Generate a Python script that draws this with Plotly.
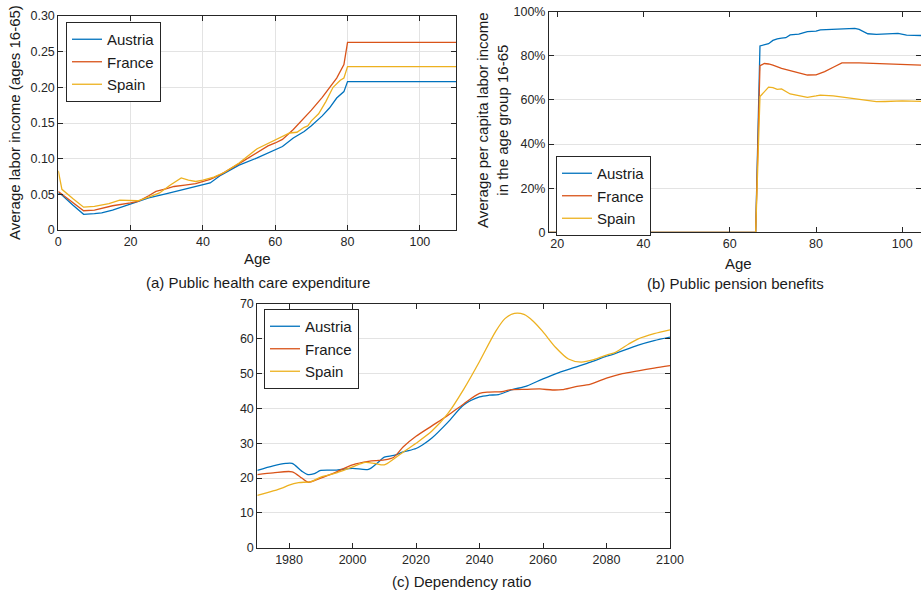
import plotly.graph_objects as go

countries = ["Austria", "France", "Spain"]
colors = ["#0072BD", "#D95319", "#EDB120"]

# ---- Panel (a): public health care expenditure by age ----
age_a = {
    "Austria": [0, 1, 4, 7, 10, 12, 15, 20, 25, 30, 35, 40, 42, 45, 50, 55, 60, 62, 65, 68, 70, 73, 75, 77, 79, 80, 110],
    "France": [0, 1, 4, 7, 10, 15, 20, 22, 25, 27, 30, 32, 35, 38, 42, 45, 50, 55, 58, 60, 62, 65, 68, 70, 73, 75, 77, 79, 80, 110],
    "Spain": [0, 1, 4, 7, 10, 14, 17, 20, 22, 25, 28, 31, 34, 36, 38, 40, 43, 46, 50, 55, 58, 60, 62, 64, 66, 68, 69, 70, 72, 74, 76, 78, 79, 80, 110],
}
health = {
    "Austria": [0.052, 0.049, 0.035, 0.022, 0.023, 0.024, 0.028, 0.036, 0.045, 0.051, 0.057, 0.063, 0.066, 0.077, 0.091, 0.101, 0.112, 0.117, 0.129, 0.138, 0.146, 0.160, 0.171, 0.185, 0.194, 0.208, 0.208],
    "France": [0.054, 0.050, 0.038, 0.027, 0.028, 0.034, 0.038, 0.040, 0.048, 0.054, 0.058, 0.061, 0.063, 0.065, 0.071, 0.078, 0.093, 0.108, 0.118, 0.122, 0.127, 0.141, 0.157, 0.168, 0.186, 0.200, 0.213, 0.232, 0.263, 0.263],
    "Spain": [0.083, 0.057, 0.044, 0.032, 0.033, 0.037, 0.042, 0.041, 0.041, 0.046, 0.052, 0.063, 0.073, 0.070, 0.068, 0.070, 0.074, 0.081, 0.094, 0.114, 0.121, 0.126, 0.131, 0.136, 0.137, 0.144, 0.146, 0.153, 0.163, 0.180, 0.200, 0.210, 0.213, 0.229, 0.229],
}
ticks_a_y = [0, 0.05, 0.10, 0.15, 0.20, 0.25, 0.30]
ticklabels_a_y = ["0", "0.05", "0.10", "0.15", "0.20", "0.25", "0.30"]

# ---- Panel (b): public pension benefits by age (% of labor income) ----
age_b = {
    "Austria": [18, 66, 67, 68, 69, 70, 71, 72, 73, 74, 76, 78, 79, 80, 81, 84, 86, 88, 89, 90, 92, 94, 96, 99, 101, 104.5],
    "France": [18, 66, 67, 68, 69, 70, 72, 74, 76, 78, 80, 82, 84, 86, 90, 94, 96, 100, 104.5],
    "Spain": [18, 66, 67, 68, 69, 70, 71, 72, 73, 74, 76, 78, 80, 81, 84, 86, 88, 90, 94, 96, 98, 100, 104.5],
}
pension = {
    "Austria": [0, 0, 84.5, 85, 85.5, 87, 87.7, 88, 88.2, 89.5, 89.8, 91, 91.2, 91.2, 91.8, 92, 92.1, 92.5, 92.4, 92, 90, 89.7, 90, 90.2, 89.4, 89.2],
    "France": [0, 0, 75.5, 76.5, 76.3, 75.8, 74.3, 73.2, 72.3, 71.3, 71.4, 72.8, 74.8, 76.8, 76.8, 76.6, 76.3, 76.2, 75.8],
    "Spain": [0, 0, 61.5, 63.5, 65.8, 65.6, 64.8, 65, 63.8, 62.7, 62, 61.2, 61.8, 62.2, 61.8, 61.3, 60.5, 60, 59.2, 59.3, 59.6, 59.6, 59.3],
}
ticks_b_y = [0, 20, 40, 60, 80, 100]
ticklabels_b_y = ["0", "20%", "40%", "60%", "80%", "100%"]

# ---- Panel (c): dependency ratio by year ----
year_c = {
    "Austria": [1970, 1975, 1979, 1981, 1984, 1986, 1988, 1990, 1995, 2000, 2005, 2008, 2010, 2013, 2016, 2020, 2022, 2025, 2030, 2035, 2040, 2043, 2046, 2050, 2055, 2060, 2065, 2070, 2075, 2080, 2082, 2090, 2095, 2100],
    "France": [1970, 1975, 1981, 1984, 1986, 1990, 1995, 2000, 2005, 2010, 2013, 2016, 2020, 2025, 2030, 2035, 2040, 2043, 2047, 2050, 2055, 2059, 2063, 2066, 2070, 2075, 2080, 2085, 2090, 2095, 2100],
    "Spain": [1970, 1975, 1978, 1980, 1983, 1987, 1990, 1995, 2000, 2004, 2007, 2010, 2013, 2016, 2020, 2025, 2030, 2035, 2040, 2045, 2048, 2051, 2054, 2057, 2060, 2064, 2068, 2072, 2076, 2080, 2083, 2087, 2090, 2095, 2100],
}
dependency = {
    "Austria": [22.2, 23.5, 24.2, 24.2, 22.0, 21.0, 21.3, 22.2, 22.3, 22.8, 22.5, 24.5, 26.0, 26.5, 27.5, 28.5, 29.5, 31.5, 36.0, 41.0, 43.3, 43.8, 44.0, 45.3, 46.5, 48.5, 50.3, 51.8, 53.3, 55.0, 55.5, 58.2, 59.5, 60.5],
    "France": [21.0, 21.5, 21.8, 20.0, 18.8, 20.0, 21.8, 23.8, 24.8, 25.2, 26.0, 29.0, 32.0, 35.0, 38.0, 41.3, 44.3, 44.7, 44.8, 45.4, 45.5, 45.6, 45.3, 45.4, 46.2, 47.0, 48.7, 50.0, 50.8, 51.6, 52.3],
    "Spain": [15.0, 16.3, 17.2, 18.0, 18.7, 19.0, 20.3, 21.5, 23.2, 24.5, 24.2, 23.8, 25.5, 27.5, 30.0, 33.5, 38.5, 45.5, 53.5, 62.0, 65.8, 67.3, 67.0, 65.0, 62.0, 57.5, 54.2, 53.3, 54.0, 55.3, 56.2, 58.5, 60.0, 61.5, 62.6],
}
ticks_c_x = [1980, 2000, 2020, 2040, 2060, 2080, 2100]
ticks_c_y = [0, 10, 20, 30, 40, 50, 60, 70]

W, H = 921, 591
FONT = "Liberation Sans, Arial, sans-serif"
AX = "#262626"
GRID = "#e3e3e3"

fig = go.Figure()

for i, c in enumerate(countries):
    fig.add_trace(go.Scatter(x=age_a[c], y=health[c], mode="lines", name=c,
                             line=dict(color=colors[i], width=1.3),
                             xaxis="x", yaxis="y", legend="legend"))
for i, c in enumerate(countries):
    fig.add_trace(go.Scatter(x=age_b[c], y=pension[c], mode="lines", name=c,
                             line=dict(color=colors[i], width=1.3),
                             xaxis="x2", yaxis="y2", legend="legend2"))
for i, c in enumerate(countries):
    fig.add_trace(go.Scatter(x=year_c[c], y=dependency[c], mode="lines", name=c,
                             line=dict(color=colors[i], width=1.3, shape="spline", smoothing=0.8),
                             xaxis="x3", yaxis="y3", legend="legend3"))


def px_x(p):
    return p / W


def px_y(p):
    return 1 - p / H


axis_common = dict(showline=True, linecolor=AX, linewidth=1, mirror="ticks",
                   ticks="inside", ticklen=5, tickcolor=AX, tickwidth=1,
                   tickfont=dict(family=FONT, size=12.5, color=AX),
                   zeroline=False, gridcolor=GRID, gridwidth=1, automargin=False)

legend_common = dict(bgcolor="white", bordercolor=AX, borderwidth=1,
                     font=dict(family=FONT, size=15, color="#1a1a1a"),
                     xanchor="left", yanchor="top", itemwidth=30,
                     tracegroupgap=0)

fig.update_layout(
    template="none",
    width=W, height=H,
    margin=dict(l=0, r=0, t=0, b=0),
    paper_bgcolor="white", plot_bgcolor="white",
    font=dict(family=FONT, color="#1a1a1a"),
    xaxis=dict(domain=[px_x(58.3), px_x(456)], range=[0, 110], anchor="y",
               tickvals=[0, 20, 40, 60, 80, 100], showgrid=True, **axis_common),
    yaxis=dict(domain=[px_y(230), px_y(16)], range=[0, 0.30], anchor="x",
               tickvals=ticks_a_y, ticktext=ticklabels_a_y, showgrid=True, **axis_common),
    xaxis2=dict(domain=[px_x(549), 1.0], range=[18.08, 104.34], anchor="y2",
                tickvals=[20, 40, 60, 80, 100], showgrid=False, **axis_common),
    yaxis2=dict(domain=[px_y(232.3), px_y(11.7)], range=[0, 100], anchor="x2",
                tickvals=ticks_b_y, ticktext=ticklabels_b_y, showgrid=True, **axis_common),
    xaxis3=dict(domain=[px_x(257.3), px_x(670)], range=[1970, 2100], anchor="y3",
                tickvals=ticks_c_x, showgrid=False, **axis_common),
    yaxis3=dict(domain=[px_y(547.7), px_y(304)], range=[0, 70], anchor="x3",
                tickvals=ticks_c_y, showgrid=True, **axis_common),
    legend=dict(x=px_x(66), y=px_y(22), **legend_common),
    legend2=dict(x=px_x(556), y=px_y(156), **legend_common),
    legend3=dict(x=px_x(264), y=px_y(309), **legend_common),
)

ann_font = dict(family=FONT, size=15, color="#1a1a1a")
annotations = [
    dict(text="Average labor income (ages 16-65)", x=px_x(14), y=px_y(123), textangle=-90),
    dict(text="Age", x=px_x(257), y=px_y(259)),
    dict(text="(a) Public health care expenditure", x=px_x(258), y=px_y(282)),
    dict(text="Average per capita labor income<br>in the age group 16-65", x=px_x(493), y=px_y(120), textangle=-90),
    dict(text="Age", x=px_x(738), y=px_y(263)),
    dict(text="(b) Public pension benefits", x=px_x(735), y=px_y(283)),
    dict(text="(c) Dependency ratio", x=px_x(461), y=px_y(581)),
]
for a in annotations:
    fig.add_annotation(xref="paper", yref="paper", showarrow=False,
                       xanchor="center", yanchor="middle", font=ann_font, **a)

fig.write_html("out.html", config={"displayModeBar": False},
               post_script="document.body.style.margin='0';document.body.style.overflow='hidden';")
